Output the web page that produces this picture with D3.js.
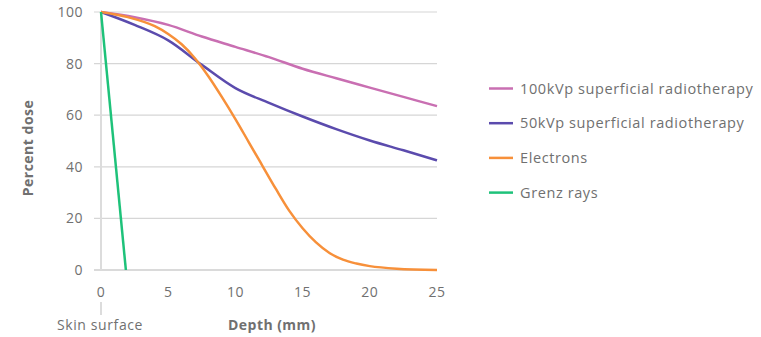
<!DOCTYPE html>
<html>
<head>
<meta charset="utf-8">
<script src="https://cdn.jsdelivr.net/npm/d3@7"></script>
<style>
  body { margin: 0; background: #fff; }
  svg { font-family: "Open Sans", "Noto Sans", sans-serif; }
</style>
</head>
<body>
<div id="chart"></div>
<script>
// depth (mm) and percent dose
var kv100Depth = [0, 2.5, 5, 7.5, 10, 12.5, 15, 17.5, 20, 22.5, 25];
var kv100Dose  = [100, 98, 95, 90.5, 86.5, 82.5, 78, 74.3, 70.7, 67.1, 63.5];

var kv50Depth = [0, 2.5, 5, 7.5, 10, 12.5, 15, 17.5, 20, 22.5, 25];
var kv50Dose  = [100, 95, 89, 79.5, 70.5, 64.8, 59.5, 54.6, 50.2, 46.4, 42.5];

var elecDepth = [0, 2, 4, 5, 6, 7, 8, 9, 10, 11, 12, 13, 14, 15, 16, 17, 18, 19, 20, 22, 25];
var elecDose  = [100, 98, 94.5, 91.5, 87.5, 82, 75, 67, 58.5, 49.5, 40.5, 31.5, 23, 16.2, 10.7, 6.6, 4, 2.5, 1.5, 0.5, 0];

var grenzDepth = [0, 1.85];
var grenzDose  = [100, 0];

var seriesNames  = ["100kVp superficial radiotherapy", "50kVp superficial radiotherapy", "Electrons", "Grenz rays"];
var seriesColors = ["#c96fb2", "#5b4bad", "#f7903a", "#1ec27a"];
var xTicks = [0, 5, 10, 15, 20, 25];
var yTicks = [0, 20, 40, 60, 80, 100];

var series = [
  {depth: kv100Depth, dose: kv100Dose},
  {depth: kv50Depth, dose: kv50Dose},
  {depth: elecDepth, dose: elecDose},
  {depth: grenzDepth, dose: grenzDose}
];

var width = 761, height = 337;
var svg = d3.select("#chart").append("svg")
  .attr("width", width)
  .attr("height", height);

var x = d3.scaleLinear().domain([0, 25]).range([101, 437]);
var y = d3.scaleLinear().domain([0, 100]).range([270, 12]);

var textColor = "#707070";

// horizontal grid
svg.append("g").selectAll(".grid")
  .data(yTicks)
  .enter()
  .append("line")
  .attr("x1", 94)
  .attr("x2", x(25))
  .attr("y1", function(d){ return y(d); })
  .attr("y2", function(d){ return y(d); })
  .attr("stroke", function(d){ return d == 0 ? "#b5b5b5" : "#d6d6d6"; })
  .attr("stroke-width", 1.2);

// vertical line at skin surface
svg.append("line")
  .attr("x1", x(0)).attr("x2", x(0))
  .attr("y1", y(100)).attr("y2", y(0))
  .attr("stroke", "#dcdcdc").attr("stroke-width", 2);
svg.append("line")
  .attr("x1", x(0)).attr("x2", x(0))
  .attr("y1", 302).attr("y2", 315)
  .attr("stroke", "#dcdcdc").attr("stroke-width", 2);

// y tick labels
svg.append("g").selectAll(".ylab")
  .data(yTicks)
  .enter()
  .append("text")
  .attr("x", 83)
  .attr("y", function(d){ return y(d) + 5; })
  .attr("text-anchor", "end")
  .attr("fill", textColor)
  .style("font-size", "14px")
  .style("letter-spacing", "0.5px")
  .text(function(d){ return d; });

// x tick labels
svg.append("g").selectAll(".xlab")
  .data(xTicks)
  .enter()
  .append("text")
  .attr("x", function(d){ return x(d); })
  .attr("y", 297)
  .attr("text-anchor", "middle")
  .attr("fill", textColor)
  .style("font-size", "14px")
  .style("letter-spacing", "0.5px")
  .text(function(d){ return d; });

svg.append("text")
  .attr("x", 57).attr("y", 330)
  .attr("fill", textColor)
  .style("font-size", "14px")
  .style("letter-spacing", "0.6px")
  .text("Skin surface");

svg.append("text")
  .attr("x", 272).attr("y", 330)
  .attr("text-anchor", "middle")
  .attr("fill", textColor)
  .style("font-size", "14px")
  .style("font-weight", "bold")
  .style("letter-spacing", "0.45px")
  .text("Depth (mm)");

svg.append("text")
  .attr("transform", "translate(33,148) rotate(-90)")
  .attr("text-anchor", "middle")
  .attr("fill", textColor)
  .style("font-size", "14px")
  .style("font-weight", "bold")
  .style("letter-spacing", "0.5px")
  .text("Percent dose");

// curves
var line = d3.line()
  .x(function(d){ return x(d[0]); })
  .y(function(d){ return y(d[1]); })
  .curve(d3.curveMonotoneX);

svg.append("g").selectAll(".curve")
  .data(series)
  .enter()
  .append("path")
  .attr("fill", "none")
  .attr("stroke", function(d, i){ return seriesColors[i]; })
  .attr("stroke-width", 2.5)
  .attr("stroke-linejoin", "round")
  .attr("d", function(d){
    return line(d.depth.map(function(v, j){ return [v, d.dose[j]]; }));
  });

// legend
var legend = svg.append("g").selectAll(".legend")
  .data(seriesNames)
  .enter()
  .append("g")
  .attr("transform", function(d, i){ return "translate(489," + (88.5 + i * 34.7) + ")"; });

legend.append("line")
  .attr("x1", 0).attr("x2", 24)
  .attr("stroke", function(d, i){ return seriesColors[i]; })
  .attr("stroke-width", 2.5);

legend.append("text")
  .attr("x", 31).attr("y", 5)
  .attr("fill", textColor)
  .style("font-size", "14.5px")
  .style("letter-spacing", "0.6px")
  .text(function(d){ return d; });
</script>
</body>
</html>
